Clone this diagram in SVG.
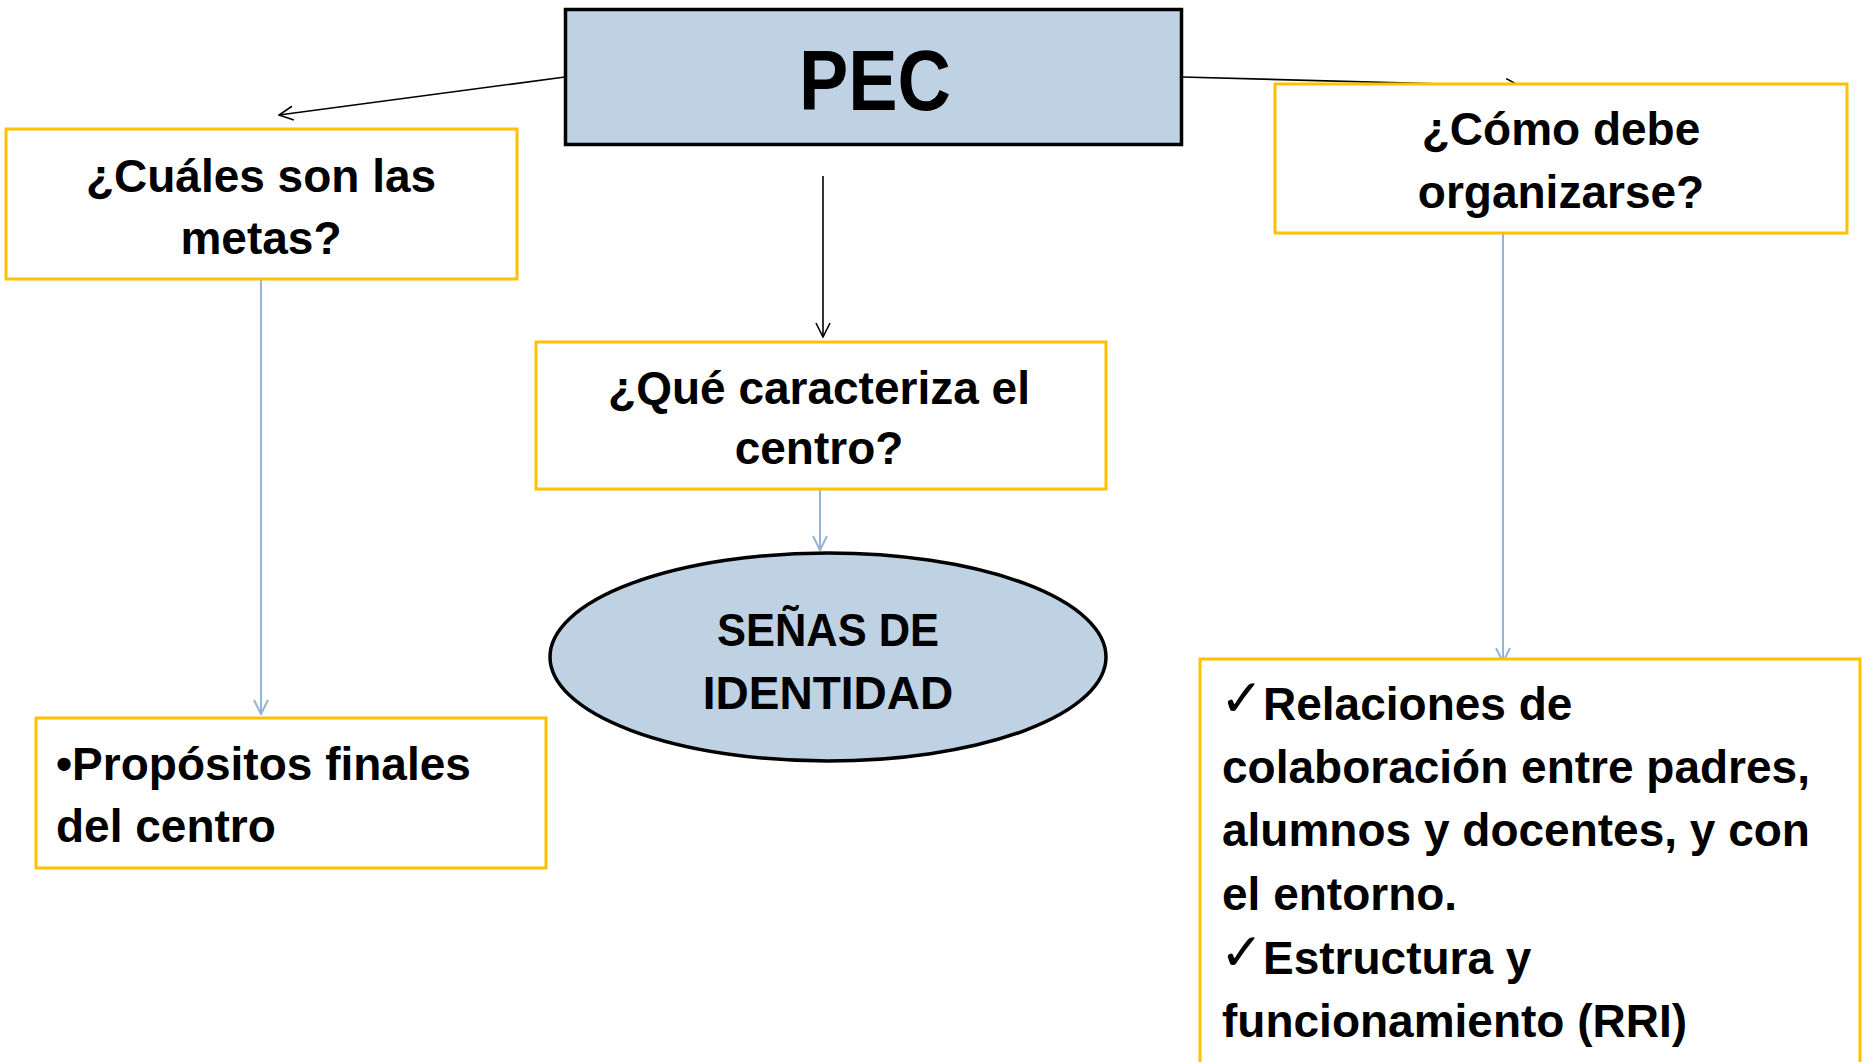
<svg xmlns="http://www.w3.org/2000/svg" width="1862" height="1062" viewBox="0 0 1862 1062">
<style>
.t{font-family:"Liberation Sans",Arial,sans-serif;font-weight:bold;font-size:46px;fill:#000}
.c{text-anchor:middle}
.box{fill:#fff;stroke:#FFC000;stroke-width:3}
.blue{fill:#BFD2E4;stroke:#000;stroke-width:3.5}
.ck{font-family:"DejaVu Sans",sans-serif;font-size:52px;fill:#000}
.lk{fill:none;stroke:#000;stroke-width:1.6}
.lb{fill:none;stroke:#95B3D7;stroke-width:2}
</style>
<defs>
<marker id="ak" markerUnits="userSpaceOnUse" viewBox="0 0 16 16" markerWidth="16" markerHeight="16" refX="15" refY="8" orient="auto">
<path d="M1,1 L15,8 L1,15" fill="none" stroke="#000" stroke-width="1.6"/>
</marker>
<marker id="ab" markerUnits="userSpaceOnUse" viewBox="0 0 16 16" markerWidth="16" markerHeight="16" refX="15" refY="8" orient="auto">
<path d="M1,1 L15,8 L1,15" fill="none" stroke="#95B3D7" stroke-width="2"/>
</marker>
</defs>
<rect width="1862" height="1062" fill="#fff"/>
<g id="connectors">
<line class="lk" x1="565" y1="77" x2="279" y2="115" marker-end="url(#ak)"/>
<line class="lk" x1="823" y1="176" x2="823" y2="337" marker-end="url(#ak)"/>
<line class="lk" x1="1182" y1="77" x2="1520" y2="86" marker-end="url(#ak)"/>
<line class="lb" x1="261" y1="279" x2="261" y2="714" marker-end="url(#ab)"/>
<line class="lb" x1="820" y1="489" x2="820" y2="550" marker-end="url(#ab)"/>
<line class="lb" x1="1503" y1="233" x2="1503" y2="662" marker-end="url(#ab)"/>
</g>
<g id="pec">
<rect class="blue" x="565.5" y="9.5" width="616" height="135"/>
<text class="t c" x="875" y="110" style="font-size:86px" textLength="152" lengthAdjust="spacingAndGlyphs">PEC</text>
</g>
<g id="metas">
<rect class="box" x="6" y="129" width="511" height="150"/>
<text class="t c" x="261" y="192">¿Cuáles son las</text>
<text class="t c" x="261" y="254">metas?</text>
</g>
<g id="organizarse">
<rect class="box" x="1275" y="84" width="572" height="149"/>
<text class="t c" x="1561" y="145">¿Cómo debe</text>
<text class="t c" x="1561" y="208">organizarse?</text>
</g>
<g id="caracteriza">
<rect class="box" x="536" y="342" width="570" height="147"/>
<text class="t c" x="819" y="404">¿Qué caracteriza el</text>
<text class="t c" x="819" y="464">centro?</text>
</g>
<g id="senas">
<ellipse class="blue" cx="828" cy="657" rx="278" ry="104"/>
<text class="t c" x="828" y="646" textLength="222" lengthAdjust="spacingAndGlyphs">SEÑAS DE</text>
<text class="t c" x="828" y="709">IDENTIDAD</text>
</g>
<g id="propositos">
<rect class="box" x="36" y="718" width="510" height="150"/>
<text class="t" x="56" y="780">•Propósitos finales</text>
<text class="t" x="56" y="842">del centro</text>
</g>
<g id="relaciones">
<rect class="box" x="1200" y="659" width="660" height="430"/>
<text class="ck" x="1220" y="716">✓</text>
<text class="t" x="1263" y="720">Relaciones de</text>
<text class="t" x="1222" y="783">colaboración entre padres,</text>
<text class="t" x="1222" y="846">alumnos y docentes, y con</text>
<text class="t" x="1222" y="910">el entorno.</text>
<text class="ck" x="1220" y="970">✓</text>
<text class="t" x="1263" y="974">Estructura y</text>
<text class="t" x="1222" y="1037">funcionamiento (RRI)</text>
</g>
</svg>
